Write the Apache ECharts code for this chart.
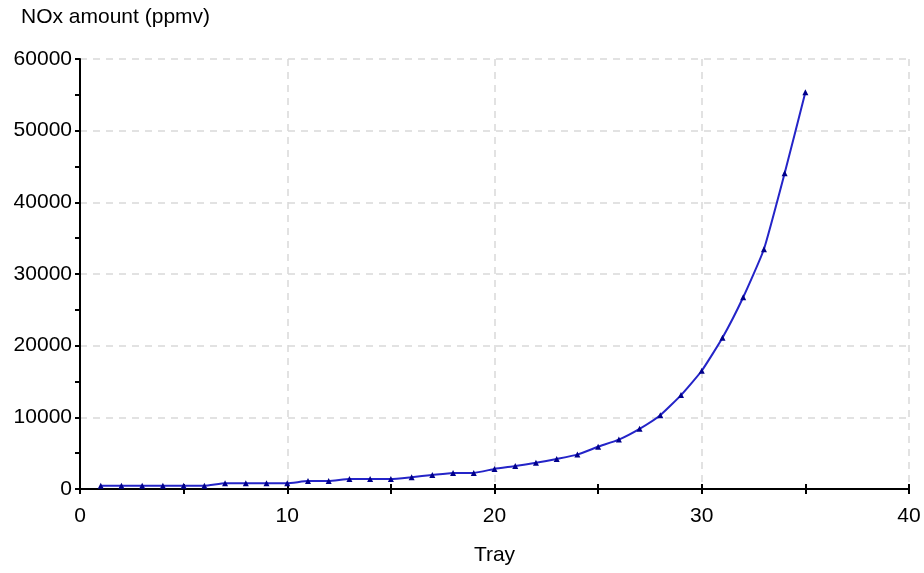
<!DOCTYPE html>
<html><head><meta charset="utf-8">
<script src="https://cdn.jsdelivr.net/npm/echarts@6/dist/echarts.min.js"></script>
<style>html,body{margin:0;padding:0;background:#fff}#c{width:924px;height:573px}</style>
</head><body><div id="c"></div>
<script>
const trays = [1,2,3,4,5,6,7,8,9,10,11,12,13,14,15,16,17,18,19,20,21,22,23,24,25,26,27,28,29,30,31,32,33,34,35];
const noxPpmv = [470,470,470,470,470,470,800,800,800,800,1100,1100,1400,1400,1400,1650,1950,2250,2250,2800,3200,3650,4200,4800,5900,6900,8400,10300,13100,16500,21100,26750,33450,44050,55350];
const yTitle = 'NOx amount (ppmv)';
const xTitle = 'Tray';

const font = 'Liberation Sans, Arial, sans-serif';
const fs = 21;
const chart = echarts.init(document.getElementById('c'), null, {renderer:'canvas'});
const axisLine = {show:true, lineStyle:{color:'#000', width:2}};
const grid = {left:80, right:15, top:59, bottom:84};
const gridLine = {show:true, lineStyle:{color:'#d9d9d9', type:[7,6], width:1.5}};
chart.setOption({
  animation:false,
  backgroundColor:'#fff',
  grid:[grid, grid],
  graphic:[
    {type:'text', left:21, top:7, style:{text:yTitle, font:fs+'px '+font, fill:'#000'}},
  ],
  xAxis:[{
    type:'value', min:0, max:40, interval:5, gridIndex:0,
    name:xTitle, nameLocation:'middle', nameGap:56,
    nameTextStyle:{color:'#000', fontSize:fs, fontFamily:font},
    axisLine, axisTick:{show:true, length:5, lineStyle:{color:'#000', width:2}},
    axisLabel:{color:'#000', fontSize:fs, fontFamily:font, margin:17,
      formatter:v => (v % 10 === 0 ? String(v) : '')},
    splitLine:{show:false}
  },{
    type:'value', min:0, max:40, interval:10, gridIndex:1, position:'bottom',
    axisLine:{show:false}, axisLabel:{show:false},
    axisTick:{show:false},
    splitLine:gridLine
  },{
    type:'value', min:0, max:40, interval:5, gridIndex:1, position:'bottom',
    axisLine:{show:false}, axisLabel:{show:false},
    axisTick:{show:true, inside:true, length:5, lineStyle:{color:'#000', width:2}},
    splitLine:{show:false}
  }],
  yAxis:[{
    type:'value', min:0, max:60000, interval:5000, gridIndex:0,
    axisLine, axisTick:{show:true, length:5, lineStyle:{color:'#000', width:2}},
    axisLabel:{color:'#000', fontSize:fs, fontFamily:font, margin:8,
      formatter:v => (v % 10000 === 0 ? String(v) : '')},
    splitLine:{show:false}
  },{
    type:'value', min:0, max:60000, interval:10000, gridIndex:1,
    axisLine:{show:false}, axisLabel:{show:false}, axisTick:{show:false},
    splitLine:gridLine
  },{
    type:'value', min:0, max:60000, interval:5000, gridIndex:1,
    axisLine:{show:false}, axisLabel:{show:false},
    axisTick:{show:true, inside:true, length:5, lineStyle:{color:'#000', width:2}},
    splitLine:{show:false}
  }],
  series:[{
    type:'line', xAxisIndex:0, yAxisIndex:0, z:5,
    data: trays.map((t,i)=>[t, noxPpmv[i]]),
    smooth:0.15,
    lineStyle:{color:'#2424c8', width:2},
    itemStyle:{color:'#00008b'},
    symbol:'triangle', symbolSize:6, showSymbol:true
  },{
    type:'line', xAxisIndex:1, yAxisIndex:1, data:[], silent:true
  }]
});
</script></body></html>
